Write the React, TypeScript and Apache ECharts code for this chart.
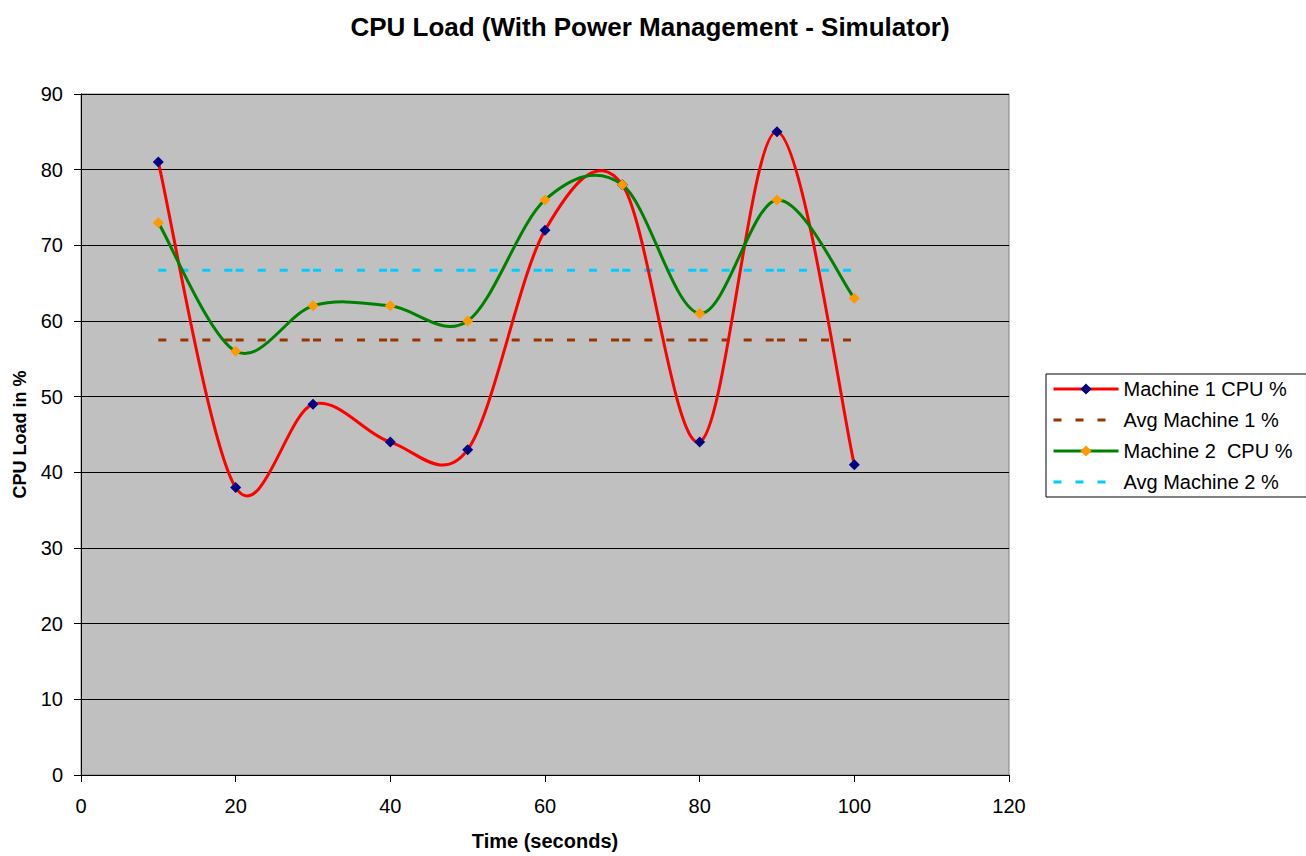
import React, { useEffect, useRef } from "react";
import * as echarts from "echarts";

const times = [10, 20, 30, 40, 50, 60, 70, 80, 90, 100];
const machine1 = [81, 38, 49, 44, 43, 72, 78, 44, 85, 41];
const machine2 = [73, 56, 62, 62, 60, 76, 78, 61, 76, 63];
const avg1 = 57.5;
const avg2 = 66.7;
const seriesNames = ["Machine 1 CPU %", "Avg Machine 1 %", "Machine 2  CPU %", "Avg Machine 2 %"];
const xTicks = { min: 0, max: 120, interval: 20 };
const yTicks = { min: 0, max: 90, interval: 10 };

const dashIcon = "path://M0,0H8V3H0Z M22,0H30V3H22Z M44,0H52V3H44Z M64.9,1.4H65V1.5H64.9Z";

function smoothRender(color: string) {
  return (params: any, api: any) => {
    const i = params.dataIndexInside;
    const n = params.dataInsideLength;
    if (i >= n - 1) return null;
    const pt = (k: number) => api.coord([api.value(0, k), api.value(1, k)]);
    const p0 = pt(Math.max(i - 1, 0));
    const p1 = pt(i);
    const p2 = pt(i + 1);
    const p3 = pt(Math.min(i + 2, n - 1));
    const c1x = p1[0] + (p2[0] - p0[0]) / 6;
    const c1y = p1[1] + (p2[1] - p0[1]) / 6;
    const c2x = p2[0] - (p3[0] - p1[0]) / 6;
    const c2y = p2[1] - (p3[1] - p1[1]) / 6;
    return {
      type: "bezierCurve",
      shape: { x1: p1[0], y1: p1[1], x2: p2[0], y2: p2[1], cpx1: c1x, cpy1: c1y, cpx2: c2x, cpy2: c2y },
      style: { stroke: color, lineWidth: 3, fill: null, lineCap: "round" },
      silent: true,
    };
  };
}

function dashRender(color: string) {
  return (params: any, api: any) => {
    const i = params.dataIndexInside;
    const n = params.dataInsideLength;
    if (i >= n - 1) return null;
    const a = api.coord([api.value(0, i), api.value(1, i)]);
    const b = api.coord([api.value(0, i + 1), api.value(1, i + 1)]);
    return {
      type: "line",
      shape: { x1: a[0], y1: a[1], x2: b[0], y2: b[1] },
      style: { stroke: color, lineWidth: 3, lineDash: [8, 14], lineCap: "butt" },
      silent: true,
    };
  };
}

export default function App() {
  const ref = useRef<HTMLDivElement>(null);
  useEffect(() => {
    document.body.style.margin = "0";
    const chart = echarts.init(ref.current!, null, { renderer: "svg" });
    const font = "Liberation Sans, Arial, sans-serif";
    const m1 = times.map((t, i) => [t, machine1[i]]);
    const m2 = times.map((t, i) => [t, machine2[i]]);
    const a1 = times.map((t) => [t, avg1]);
    const a2 = times.map((t) => [t, avg2]);
    chart.setOption({
      animation: false,
      backgroundColor: "#ffffff",
      textStyle: { fontFamily: font },
      title: {
        text: "CPU Load (With Power Management - Simulator)",
        left: 645,
        top: 9,
        textAlign: "center",
        textStyle: { fontFamily: font, fontSize: 26, fontWeight: "bold", color: "#000" },
      },
      grid: {
        left: 81,
        right: 297,
        top: 94,
        bottom: 78,
        show: true,
        backgroundColor: "#c0c0c0",
        borderColor: "#808080",
        borderWidth: 1,
      },
      legend: {
        orient: "vertical",
        left: 1046,
        top: 374,
        padding: [5, 14, 5, 6],
        itemWidth: 65,
        itemHeight: 14,
        itemGap: 11,
        borderColor: "#000",
        borderWidth: 1,
        borderRadius: 0,
        data: [
          { name: seriesNames[0], lineStyle: { color: "#ff0000", width: 3, opacity: 1 } },
          { name: seriesNames[1], icon: dashIcon },
          { name: seriesNames[2], lineStyle: { color: "#008000", width: 3, opacity: 1 } },
          { name: seriesNames[3], icon: dashIcon },
        ],
        textStyle: { fontFamily: font, fontSize: 20, color: "#000", lineHeight: 20 },
      },
      xAxis: {
        type: "value",
        ...xTicks,
        name: "Time (seconds)",
        nameLocation: "middle",
        nameGap: 56,
        nameTextStyle: { fontFamily: font, fontSize: 20, fontWeight: "bold", color: "#000" },
        axisLine: { show: true, lineStyle: { color: "#000", width: 1 } },
        axisTick: { show: true, length: 7, lineStyle: { color: "#000" } },
        axisLabel: { fontFamily: font, fontSize: 20, color: "#000", margin: 21 },
        splitLine: { show: false },
      },
      yAxis: {
        type: "value",
        ...yTicks,
        name: "CPU Load in %",
        nameLocation: "middle",
        nameGap: 52,
        nameTextStyle: { fontFamily: font, fontSize: 18, fontWeight: "bold", color: "#000" },
        axisLine: { show: true, lineStyle: { color: "#000", width: 1 } },
        axisTick: { show: true, length: 7, lineStyle: { color: "#000" } },
        axisLabel: { fontFamily: font, fontSize: 20, color: "#000", margin: 18 },
        splitLine: { show: true, lineStyle: { color: "#000", width: 1 } },
      },
      series: [
        {
          name: seriesNames[1],
          type: "custom",
          data: a1,
          renderItem: dashRender("#993300"),
          itemStyle: { color: "#993300" },
          encode: { x: 0, y: 1 },
          z: 1,
        },
        {
          name: seriesNames[3],
          type: "custom",
          data: a2,
          renderItem: dashRender("#00ccff"),
          itemStyle: { color: "#00ccff" },
          encode: { x: 0, y: 1 },
          z: 1,
        },
        {
          name: "m1curve",
          type: "custom",
          data: m1,
          renderItem: smoothRender("#ff0000"),
          encode: { x: 0, y: 1 },
          z: 2,
        },
        {
          name: seriesNames[0],
          type: "line",
          data: m1,
          symbol: "diamond",
          symbolSize: 11,
          showAllSymbol: true,
          lineStyle: { color: "#ff0000", width: 3, opacity: 0 },
          itemStyle: { color: "#000080" },
          color: "#ff0000",
          z: 3,
        },
        {
          name: "m2curve",
          type: "custom",
          data: m2,
          renderItem: smoothRender("#008000"),
          encode: { x: 0, y: 1 },
          z: 4,
        },
        {
          name: seriesNames[2],
          type: "line",
          data: m2,
          symbol: "diamond",
          symbolSize: 11,
          showAllSymbol: true,
          lineStyle: { color: "#008000", width: 3, opacity: 0 },
          itemStyle: { color: "#ff9900" },
          z: 5,
        },
      ],
    });
    return () => chart.dispose();
  }, []);
  return <div ref={ref} style={{ width: 1306, height: 856 }} />;
}
